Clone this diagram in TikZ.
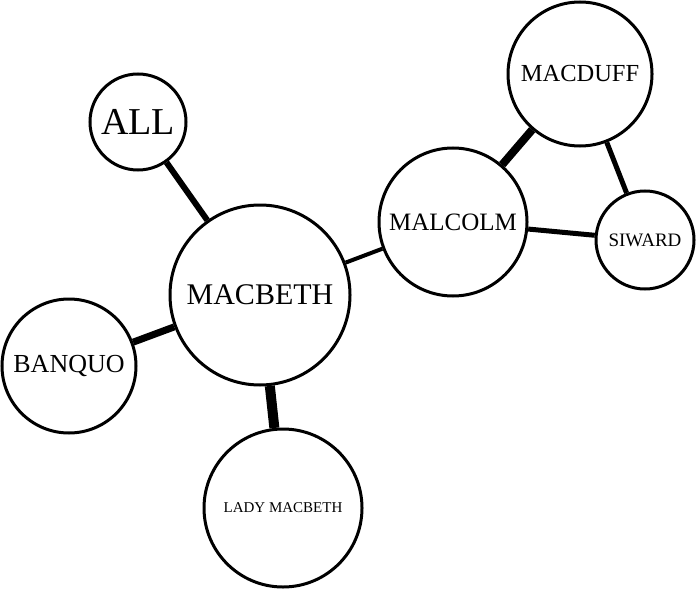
\documentclass[tikz,border=0pt]{standalone}
\usepackage{fontspec}
\setmainfont{Liberation Serif}
\newcommand{\fs}[1]{\fontsize{#1}{#1}\selectfont}

\begin{document}
\begin{tikzpicture}[x=1pt,y=-1pt,
  person/.style={draw,circle,line width=3pt,fill=white,inner sep=0pt}]
\useasboundingbox (0,0) rectangle (700,588);
\node[person,minimum size=96pt] (all) at (138,122) {\fs{38}ALL};
\node[person,minimum size=180pt] (macbeth) at (260,295) {\fs{30}MACBETH};
\node[person,minimum size=134pt] (banquo) at (69,366) {\fs{26}BANQUO};
\node[person,minimum size=158pt] (lady) at (283,508) {\fs{15}LADY MACBETH};
\node[person,minimum size=148pt] (malcolm) at (453,222) {\fs{25}MALCOLM};
\node[person,minimum size=144pt] (macduff) at (580,74) {\fs{24.5}MACDUFF};
\node[person,minimum size=98pt] (siward) at (645,240) {\fs{19}SIWARD};
%
\draw[line width=6pt] (all) -- (macbeth);
\draw[line width=7pt] (banquo) -- (macbeth);
\draw[line width=10pt] (macbeth) -- (lady);
\draw[line width=4pt] (macbeth) -- (malcolm);
\draw[line width=8pt] (malcolm) -- (macduff);
\draw[line width=5pt] (malcolm) -- (siward);
\draw[line width=5pt] (macduff) -- (siward);
\end{tikzpicture}
\end{document}
